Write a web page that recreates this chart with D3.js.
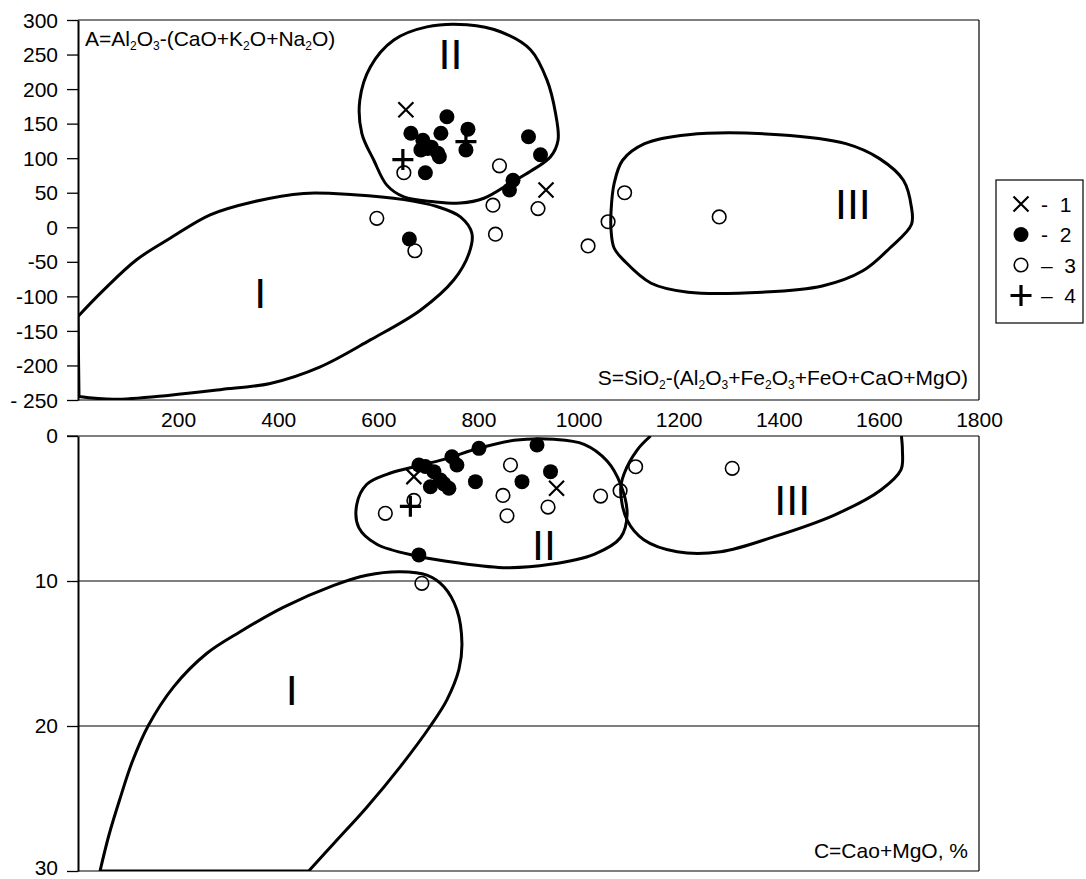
<!DOCTYPE html>
<html>
<head>
<meta charset="utf-8">
<script src="https://cdn.jsdelivr.net/npm/d3@7"></script>
<style>
  body { margin: 0; background: #fff; }
  svg text { font-family: "Liberation Sans", Arial, sans-serif; fill: #000; }
</style>
</head>
<body>
<svg id="chart"></svg>
<script>
var width = 1086, height = 879;

// axis ticks
var sTicks = [200, 400, 600, 800, 1000, 1200, 1400, 1600, 1800];
var aTicks = [300, 250, 200, 150, 100, 50, 0, -50, -100, -150, -200, -250];
var aTickLabels = ["300", "250", "200", "150", "100", "50", "0", "-50", "-100", "-150", "-200", "- 250"];
var cTicks = [0, 10, 20, 30];

// upper diagram: S vs A
var topCross = [[655, 170], [935, 54]];
var topFilled = [[737, 160], [665, 136], [725, 136], [779, 142], [775, 112], [689, 126], [699, 114],
  [719, 107], [685, 112], [706, 116], [722, 102], [694, 79], [900, 131], [924, 105], [869, 68],
  [862, 54], [662, -17]];
var topOpen = [[651, 79], [842, 89], [829, 32], [919, 27], [597, 13], [673, -34], [834, -10],
  [1019, -27], [1059, 8], [1092, 50], [1281, 15]];
var topPlus = [[649, 98], [775, 124]];

// upper fields (outlines); field I is open along the A axis
var topField1 = [[0, -129], [51, -91], [117, -47], [184, -16], [264, 18], [351, 37], [451, 49],
  [551, 47], [651, 40], [717, 30], [764, 15], [787, -9], [781, -38], [751, -76], [684, -120],
  [584, -163], [484, -202], [384, -226], [284, -235], [184, -243], [71, -249], [2, -245]];
var topField2 = [[777, 293], [844, 283], [904, 257], [937, 213], [954, 165], [959, 126], [944, 102],
  [904, 81], [864, 64], [811, 42], [764, 35], [711, 37], [651, 44], [617, 61], [591, 97],
  [567, 136], [563, 184], [584, 232], [631, 271], [697, 290]];
var topField3 = [[1065, 24], [1071, 63], [1088, 97], [1132, 121], [1219, 134], [1400, 134],
  [1534, 121], [1602, 99], [1649, 68], [1665, 29], [1665, 4], [1622, -30], [1568, -63],
  [1487, -85], [1367, -94], [1219, -94], [1145, -81], [1092, -49], [1071, -30], [1065, -5]];
var topFieldLabels = [["I", 364, -95], ["II", 744, 252], ["III", 1548, 34]];

// lower diagram: S vs C
var botFilled = [[801, 0.85], [917, 0.62], [747, 1.43], [757, 2.0], [681, 2.0], [694, 2.1],
  [711, 2.46], [944, 2.46], [794, 3.15], [887, 3.15], [704, 3.5], [741, 3.6], [724, 3.03],
  [731, 3.3], [681, 8.2]];
var botOpen = [[864, 2.0], [614, 5.33], [671, 4.44], [849, 4.1], [857, 5.5], [939, 4.9],
  [1044, 4.14], [1083, 3.77], [1114, 2.12], [1307, 2.23], [687, 10.16]];
var botCross = [[671, 2.8], [956, 3.6]];
var botPlus = [[664, 4.85]];

// field I is closed along C = 30, field III is open along C = 0
var botField1 = [[461, 30], [511, 28.1], [577, 25.6], [644, 22.8], [704, 20.0], [737, 18.2],
  [761, 16.1], [767, 14.3], [757, 12.0], [731, 10.4], [697, 9.6], [644, 9.36], [577, 9.6],
  [511, 10.3], [411, 11.8], [324, 13.5], [257, 15.0], [191, 17.3], [140, 20.0], [108, 22.5],
  [84, 25.0], [62, 27.5], [44, 30]];
var botField2 = [[557, 4.71], [577, 3.33], [617, 2.64], [664, 2.19], [731, 1.61], [804, 0.81],
  [871, 0.3], [951, 0.23], [1011, 0.57], [1057, 1.72], [1084, 3.33], [1097, 5.4], [1084, 7.0],
  [1031, 8.16], [944, 8.85], [857, 9.08], [757, 8.74], [677, 8.28], [597, 7.47], [561, 6.32]];
var botField3 = [[1144, 0], [1117, 0.97], [1091, 2.6], [1084, 3.72], [1097, 5.8], [1131, 7.17],
  [1197, 7.98], [1284, 7.98], [1391, 6.94], [1511, 5.45], [1604, 3.72], [1644, 2.34],
  [1647, 0.97], [1645, 0]];
var botFieldLabels = [["I", 427, 17.5], ["II", 931, 7.5], ["III", 1427, 4.4]];

var legendItems = [["cross", "-  1"], ["filled", "-  2"], ["open", "\u2013  3"], ["plus", "\u2013  4"]];

var svg = d3.select("#chart").attr("width", width).attr("height", height);

var x = d3.scaleLinear().domain([0, 1800]).range([78, 979]);
var yTop = d3.scaleLinear().domain([-250, 300]).range([400, 20]);
var yBot = d3.scaleLinear().domain([0, 30]).range([436, 871]);

var fontSize = 21;

var defs = svg.append("defs");
defs.append("clipPath").attr("id", "clipTop").append("rect")
  .attr("x", x(0)).attr("y", yTop(300)).attr("width", x(1800) - x(0)).attr("height", yTop(-250) - yTop(300));
defs.append("clipPath").attr("id", "clipBot").append("rect")
  .attr("x", x(0)).attr("y", yBot(0)).attr("width", x(1800) - x(0)).attr("height", yBot(30) - yBot(0));

// ---- frames ----
function frame(y, y0, y1) {
  svg.append("line").attr("x1", x(0)).attr("x2", x(1800)).attr("y1", y(y0)).attr("y2", y(y0))
    .attr("stroke", "#000").attr("stroke-width", 1.2);
  svg.append("line").attr("x1", x(0)).attr("x2", x(1800)).attr("y1", y(y1)).attr("y2", y(y1))
    .attr("stroke", "#000").attr("stroke-width", 1.2);
  svg.append("line").attr("x1", x(1800)).attr("x2", x(1800)).attr("y1", y(y0)).attr("y2", y(y1))
    .attr("stroke", "#000").attr("stroke-width", 1.2);
}
frame(yTop, 300, -250);
frame(yBot, 0, 30);

// grid lines in lower diagram
svg.selectAll(".grid").data([10, 20]).enter().append("line")
  .attr("x1", x(0)).attr("x2", x(1800))
  .attr("y1", function (d) { return yBot(d); }).attr("y2", function (d) { return yBot(d); })
  .attr("stroke", "#000").attr("stroke-width", 1.2);

// ---- axes ----
var axTop = svg.append("g").attr("transform", "translate(" + x(0) + ",0)")
  .call(d3.axisLeft(yTop).tickValues(aTicks).tickSize(11).tickSizeOuter(0).tickPadding(9)
    .tickFormat(function (d, i) { return aTickLabels[i]; }));
var axBot = svg.append("g").attr("transform", "translate(" + x(0) + ",0)")
  .call(d3.axisLeft(yBot).tickValues(cTicks).tickSize(11).tickSizeOuter(0).tickPadding(9)
    .tickFormat(d3.format("d")));
var axX = svg.append("g").attr("transform", "translate(0," + yTop(-250) + ")")
  .call(d3.axisBottom(x).tickValues(sTicks).tickSize(0).tickPadding(12).tickFormat(d3.format("d")));
axX.select(".domain").remove();

[axTop, axBot, axX].forEach(function (g) {
  g.selectAll("text").attr("font-size", fontSize).attr("font-family", "Liberation Sans, Arial, sans-serif");
  g.selectAll("line").attr("stroke", "#000").attr("stroke-width", 1.3);
  g.select(".domain").attr("stroke", "#000").attr("stroke-width", 2);
});
axTop.selectAll("text").attr("dy", "0.34em").style("white-space", "pre");
axBot.selectAll("text").attr("dy", function (d) { return d === 30 ? "0.15em" : "0.3em"; });
svg.append("line").attr("x1", x(0) - 11).attr("x2", x(0)).attr("y1", yBot(0)).attr("y2", yBot(0))
  .attr("stroke", "#000").attr("stroke-width", 1.3);

// ---- fields ----
var lineTop = d3.line().x(function (d) { return x(d[0]); }).y(function (d) { return yTop(d[1]); })
  .curve(d3.curveCatmullRomClosed.alpha(0.5));
var lineTopOpen = d3.line().x(function (d) { return x(d[0]); }).y(function (d) { return yTop(d[1]); })
  .curve(d3.curveCatmullRom.alpha(0.5));
var lineBotClosed = d3.line().x(function (d) { return x(d[0]); }).y(function (d) { return yBot(d[1]); })
  .curve(d3.curveCatmullRomClosed.alpha(0.5));
var lineBotOpen = d3.line().x(function (d) { return x(d[0]); }).y(function (d) { return yBot(d[1]); })
  .curve(d3.curveCatmullRom.alpha(0.5));

var gTop = svg.append("g").attr("clip-path", "url(#clipTop)");
var gBot = svg.append("g").attr("clip-path", "url(#clipBot)");

gTop.append("path").attr("d", lineTopOpen(topField1) + "Z")
  .attr("fill", "none").attr("stroke", "#000").attr("stroke-width", 3);
[topField2, topField3].forEach(function (f) {
  gTop.append("path").attr("d", lineTop(f))
    .attr("fill", "none").attr("stroke", "#000").attr("stroke-width", 3);
});
gBot.append("path").attr("d", lineBotOpen(botField1) + "Z")
  .attr("fill", "none").attr("stroke", "#000").attr("stroke-width", 3);
gBot.append("path").attr("d", lineBotClosed(botField2))
  .attr("fill", "none").attr("stroke", "#000").attr("stroke-width", 3);
gBot.append("path").attr("d", lineBotOpen(botField3))
  .attr("fill", "none").attr("stroke", "#000").attr("stroke-width", 3);

function fieldLabels(data, y) {
  svg.selectAll(null).data(data).enter().append("text")
    .attr("x", function (d) { return x(d[1]); })
    .attr("y", function (d) { return y(d[2]); })
    .attr("dy", "0.36em")
    .attr("text-anchor", "middle")
    .attr("font-size", 43)
    .text(function (d) { return d[0]; });
}
fieldLabels(topFieldLabels, yTop);
fieldLabels(botFieldLabels, yBot);

// ---- markers ----
function crossPath(cx, cy, s) {
  return "M" + (cx - s) + "," + (cy - s) + "L" + (cx + s) + "," + (cy + s) +
    "M" + (cx - s) + "," + (cy + s) + "L" + (cx + s) + "," + (cy - s);
}
function plusPath(cx, cy, s) {
  return "M" + (cx - s) + "," + cy + "L" + (cx + s) + "," + cy +
    "M" + cx + "," + (cy - s) + "L" + cx + "," + (cy + s);
}
function drawMarker(g, kind, cx, cy) {
  if (kind === "cross") {
    g.append("path").attr("d", crossPath(cx, cy, 7.5)).attr("stroke", "#000").attr("stroke-width", 2.2);
  } else if (kind === "plus") {
    g.append("path").attr("d", plusPath(cx, cy, 10.5)).attr("stroke", "#000").attr("stroke-width", 3.2);
  } else if (kind === "filled") {
    g.append("circle").attr("cx", cx).attr("cy", cy).attr("r", 7.5).attr("fill", "#000");
  } else {
    g.append("circle").attr("cx", cx).attr("cy", cy).attr("r", 6.8)
      .attr("fill", "none").attr("stroke", "#000").attr("stroke-width", 1.6);
  }
}
function drawSet(g, data, y, kind) {
  data.forEach(function (d) { drawMarker(g, kind, x(d[0]), y(d[1])); });
}
var mTop = svg.append("g");
drawSet(mTop, topPlus, yTop, "plus");
drawSet(mTop, topCross, yTop, "cross");
drawSet(mTop, topFilled, yTop, "filled");
drawSet(mTop, topOpen, yTop, "open");
var mBot = svg.append("g");
drawSet(mBot, botCross, yBot, "cross");
drawSet(mBot, botPlus, yBot, "plus");
drawSet(mBot, botFilled, yBot, "filled");
drawSet(mBot, botOpen, yBot, "open");

// ---- axis titles ----
function formula(parts, tx, ty, anchor) {
  var t = svg.append("text").attr("x", tx).attr("y", ty).attr("font-size", fontSize)
    .attr("text-anchor", anchor);
  parts.forEach(function (p) {
    if (p[1]) {
      t.append("tspan").attr("font-size", 12).attr("dy", 4).text(p[0]);
    } else {
      t.append("tspan").attr("font-size", fontSize).attr("dy", p[2] ? -4 : 0).text(p[0]);
    }
  });
  return t;
}
formula([["A=Al"], ["2", 1], ["O", 0, 1], ["3", 1], ["-(CaO+K", 0, 1], ["2", 1], ["O+Na", 0, 1], ["2", 1], ["O)", 0, 1]],
  x(0) + 7, yTop(300) + 26, "start");
formula([["S=SiO"], ["2", 1], ["-(Al", 0, 1], ["2", 1], ["O", 0, 1], ["3", 1], ["+Fe", 0, 1], ["2", 1], ["O", 0, 1], ["3", 1],
  ["+FeO+CaO+MgO)", 0, 1]], x(1800) - 11, yTop(-250) - 15, "end");
svg.append("text").attr("x", x(1800) - 11).attr("y", yBot(30) - 13).attr("font-size", fontSize)
  .attr("text-anchor", "end").text("C=Cao+MgO, %");

// ---- legend ----
var lg = svg.append("g").attr("transform", "translate(996,180)");
lg.append("rect").attr("width", 87).attr("height", 143).attr("fill", "#fff")
  .attr("stroke", "#000").attr("stroke-width", 1.2);
legendItems.forEach(function (d, i) {
  var cy = 24 + i * 30.5;
  drawMarker(lg, d[0], 25, cy);
  lg.append("text").attr("x", 45).attr("y", cy).attr("dy", "0.36em").attr("font-size", fontSize)
    .style("white-space", "pre").text(d[1]);
});
</script>
</body>
</html>
